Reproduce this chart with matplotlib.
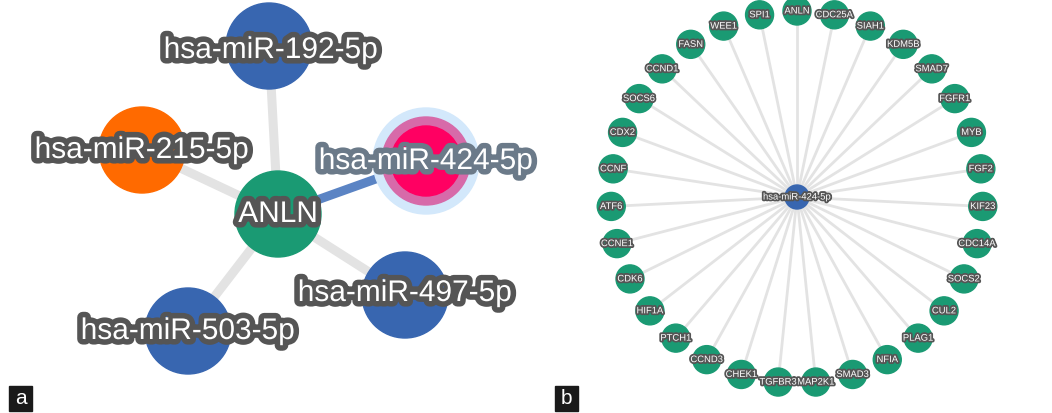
import numpy as np
import matplotlib
matplotlib.use('Agg')
import matplotlib.pyplot as plt
from matplotlib.patches import Circle, Rectangle
import matplotlib.patheffects as pe

plt.rcParams['font.family'] = ['Liberation Sans', 'DejaVu Sans']

# ---- data ----
# panel a: miRNAs that target ANLN
hub_a = "ANLN"
mirnas_a = ["hsa-miR-192-5p", "hsa-miR-215-5p", "hsa-miR-424-5p", "hsa-miR-497-5p", "hsa-miR-503-5p"]
highlight_a = "hsa-miR-424-5p"

# panel b: targets of hsa-miR-424-5p (clockwise from top)
hub_b = "hsa-miR-424-5p"
targets_b = ["ANLN", "CDC25A", "SIAH1", "KDM5B", "SMAD7", "FGFR1", "MYB", "FGF2",
             "KIF23", "CDC14A", "SOCS2", "CUL2", "PLAG1", "NFIA", "SMAD3", "MAP2K1",
             "TGFBR3", "CHEK1", "CCND3", "PTCH1", "HIF1A", "CDK6", "CCNE1", "ATF6",
             "CCNF", "CDX2", "SOCS6", "CCND1", "FASN", "WEE1", "SPI1"]

# ---- layout (pixel space) ----
pos_a = {"ANLN": (278, 214),
         "hsa-miR-192-5p": (269, 46),
         "hsa-miR-215-5p": (142, 150),
         "hsa-miR-424-5p": (426, 161),
         "hsa-miR-497-5p": (405, 295),
         "hsa-miR-503-5p": (188, 331)}
label_off_a = {"hsa-miR-192-5p": (2, 4), "hsa-miR-497-5p": (0, -2)}
colors_a = {"ANLN": "#1a9a73", "hsa-miR-192-5p": "#3866b0", "hsa-miR-215-5p": "#ff6a00",
            "hsa-miR-497-5p": "#3866b0", "hsa-miR-503-5p": "#3866b0"}
center_b = (797, 197)
radius_b = 186

GREEN = "#1a9a73"
BLUE = "#3866b0"

fig = plt.figure(figsize=(10.52, 4.13), dpi=100)
ax = fig.add_axes([0, 0, 1, 1])
ax.set_xlim(0, 1052)
ax.set_ylim(413, 0)
ax.axis('off')

def outlined(x, y, s, size, color="#555555", lw=7):
    ax.text(x, y, s, fontsize=size, color="white", ha="center", va="center", zorder=10,
            path_effects=[pe.withStroke(linewidth=lw, foreground=color)])

# ---- panel a ----
hx, hy = pos_a[hub_a]
for m in mirnas_a:
    mx, my = pos_a[m]
    if m == highlight_a:
        ax.plot([hx, mx], [hy, my], color="#5b84c4", lw=6.5, solid_capstyle="butt", zorder=1)
    else:
        ax.plot([hx, mx], [hy, my], color="#e3e3e3", lw=6.5, solid_capstyle="butt", zorder=1)

for m in mirnas_a:
    mx, my = pos_a[m]
    if m == highlight_a:
        ax.add_patch(Circle((mx, my), 53, color="#d3e8fb", zorder=2))
        ax.add_patch(Circle((mx, my), 44, color="#d76aa9", zorder=3))
        ax.add_patch(Circle((mx, my), 35, color="#ff0062", zorder=4))
    else:
        ax.add_patch(Circle((mx, my), 43, color=colors_a[m], zorder=2))
ax.add_patch(Circle((hx, hy), 43, color=colors_a[hub_a], zorder=2))

for m in mirnas_a:
    mx, my = pos_a[m]
    dx, dy = label_off_a.get(m, (0, 0))
    if m == highlight_a:
        outlined(mx + dx, my + dy, m, 21.5, color="#6b7a89", lw=8)
    else:
        outlined(mx + dx, my + dy, m, 21.5, lw=8)
outlined(hx, hy, hub_a, 21.5, lw=8)

# ---- panel b ----
cx, cy = center_b
angles = np.deg2rad(90 - np.arange(len(targets_b)) * 360 / len(targets_b))
for t, a in zip(targets_b, angles):
    tx = cx + radius_b * np.cos(a)
    ty = cy - radius_b * np.sin(a)
    ax.plot([cx, tx], [cy, ty], color="#e3e3e3", lw=2, zorder=1)
    ax.add_patch(Circle((tx, ty), 14, color=GREEN, zorder=2))
    outlined(tx, ty, t, 6.8, lw=2.6)
ax.add_patch(Circle((cx, cy), 12, color=BLUE, zorder=3))
outlined(cx, cy, hub_b, 6.8, lw=2.6)

# ---- panel tags ----
for x0, letter in [(9, "a"), (555, "b")]:
    ax.add_patch(Rectangle((x0, 386), 23, 25, color="#1a1a1a", zorder=20))
    ax.text(x0 + 11.5, 399, letter, color="white", fontsize=15, ha="center", va="center", zorder=21)

fig.savefig("out.png", dpi=100)
